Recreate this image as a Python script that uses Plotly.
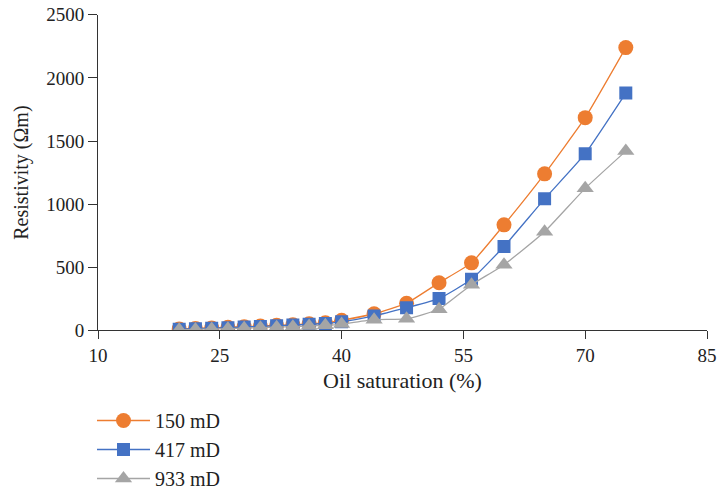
import plotly.graph_objects as go

oil_saturation = [20, 22, 24, 26, 28, 30, 32, 34, 36, 38, 40, 44, 48, 52, 56, 60, 65, 70, 75]
res_150 = [12, 16, 20, 25, 30, 35, 40, 45, 52, 60, 80, 132, 215, 378, 535, 836, 1240, 1685, 2240]
res_417 = [10, 14, 18, 22, 27, 32, 37, 42, 48, 55, 68, 115, 180, 252, 405, 665, 1042, 1400, 1880]
res_933 = [5, 8, 11, 14, 18, 22, 26, 30, 35, 40, 50, 85, 92, 168, 362, 520, 782, 1125, 1420]
series_names = ["150 mD", "417 mD", "933 mD"]
x_ticks = [10, 25, 40, 55, 70, 85]
y_ticks = [0, 500, 1000, 1500, 2000, 2500]

colors = ["#ED7D31", "#4472C4", "#A5A5A5"]
symbols = ["circle", "square", "triangle-up"]
sizes = [15, 13, 15]

fig = go.Figure()
for i, ys in enumerate([res_150, res_417, res_933]):
    fig.add_trace(go.Scatter(
        x=oil_saturation, y=ys, name=series_names[i], mode="lines+markers",
        line=dict(color=colors[i], width=1.3, shape="spline", smoothing=0.4),
        marker=dict(symbol=symbols[i], size=sizes[i], color=colors[i]),
        legendgroup=str(i),
    ))

W, H = 717, 498
HE = 482  # effective rendered height used for domain fractions
font = "Liberation Serif"
fig.update_layout(
    width=W, height=H, autosize=False,
    margin=dict(l=0, r=0, t=0, b=0),
    plot_bgcolor="white", paper_bgcolor="white",
    font=dict(family=font, size=19, color="#222"),
    showlegend=True,
    legend=dict(x=92 / W, y=1 - 408 / HE, xanchor="left", yanchor="top",
                orientation="v", traceorder="grouped", tracegroupgap=0,
                itemwidth=53, bgcolor="rgba(0,0,0,0)",
                font=dict(family=font, size=20, color="#222")),
)
fig.update_xaxes(range=[10, 85], tickvals=x_ticks, ticks="outside", ticklen=8,
                 domain=[98 / W, 707 / W], ticklabeloverflow="allow",
                 tickcolor="#333", showline=True, linecolor="#333", linewidth=1,
                 showgrid=False, zeroline=False, automargin=False,
                 tickfont=dict(family=font, size=19, color="#222"),
                 title=dict(text="Oil saturation (%)", font=dict(family=font, size=22, color="#222"), standoff=7))
fig.update_yaxes(range=[0, 2500], tickvals=y_ticks, ticks="outside", ticklen=9,
                 domain=[1 - 336 / HE, 1 - 15 / HE], ticklabeloverflow="allow",
                 tickcolor="#333", showline=True, linecolor="#333", linewidth=1,
                 showgrid=False, zeroline=False, automargin=False,
                 tickfont=dict(family=font, size=19, color="#222"),
                 title=dict(text="Resistivity (Ωm)", font=dict(family=font, size=20, color="#222"), standoff=12))

fig.write_html("out.html",
               config={"responsive": False, "displayModeBar": False},
               post_script="document.body.style.margin='0';")
